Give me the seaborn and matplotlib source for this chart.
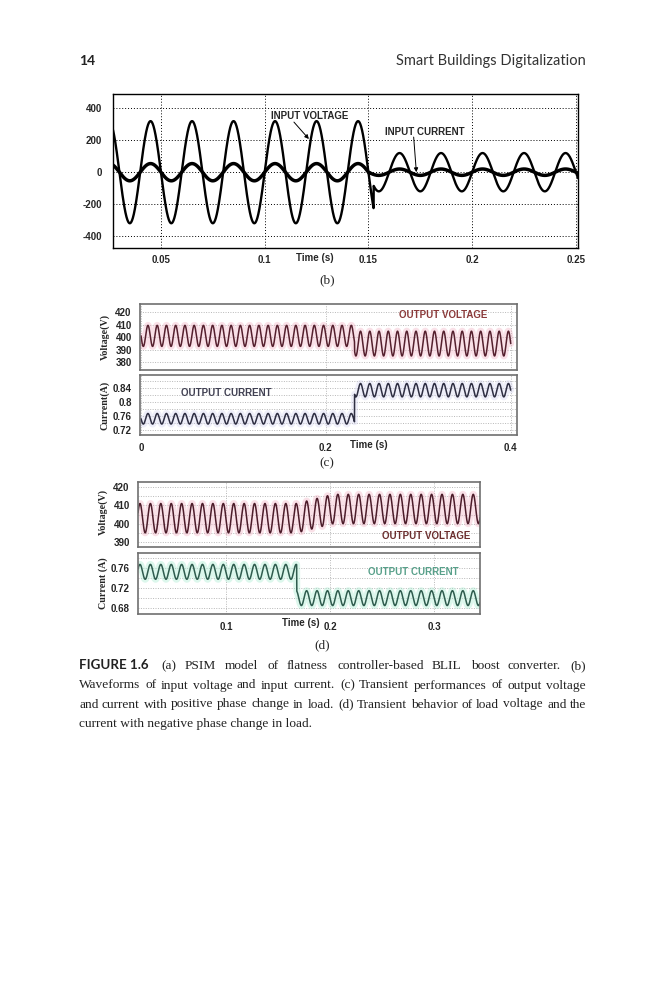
import numpy as np
import pandas as pd
import matplotlib
matplotlib.use("Agg")
import matplotlib.pyplot as plt
from matplotlib.font_manager import FontProperties
import seaborn as sns

# ------------------------------------------------------------------ data
# (b) input voltage / input current
b_line_freq_hz = 50.0
b_xlim = (0.0269, 0.251)
b_ylim = (-475, 490)
b_xticks = [0.05, 0.1, 0.15, 0.2, 0.25]
b_xticklabels = ["0.05", "0.1", "0.15", "0.2", "0.25"]
b_yticks = [-400, -200, 0, 200, 400]
b_yticklabels = ["-400", "-200", "0", "200", "400"]
b_vin_amp = [320, 120]          # before / after switching
b_vin_switch_t = 0.1525
b_iin_amp = [54, 20]
b_iin_switch_t = 0.1505

# (c) output voltage / current, positive load change
c_ripple_hz = 100.0
c_step_t = 0.231
c_v_mean = [401.0, 394.8]
c_v_amp = [8.5, 10.0]
c_i_mean = [0.752, 0.833]
c_i_amp = [0.015, 0.019]
c_xlim = (-0.0011, 0.4068)
c_xticks = [0, 0.2, 0.4]
c_xticklabels = ["0", "0.2", "0.4"]
c_v_ylim = (373.5, 426.7)
c_v_yticks = [380, 390, 400, 410, 420]
c_i_ylim = (0.706, 0.876)
c_i_yticks = [0.72, 0.76, 0.8, 0.84]
c_i_yticklabels = ["0.72", "0.76", "0.8", "0.84"]

# (d) output voltage / current, negative load change
d_ripple_hz = 100.0
d_step_t = 0.168
d_v_mean = [403.0, 408.0]
d_v_amp = [8.0, 8.0]
d_v_settle_s = 0.035
d_i_mean = [0.752, 0.699]
d_i_amp = [0.015, 0.015]
d_xlim = (0.0156, 0.344)
d_xticks = [0.1, 0.2, 0.3]
d_xticklabels = ["0.1", "0.2", "0.3"]
d_v_ylim = (387.3, 422.7)
d_v_yticks = [390, 400, 410, 420]
d_i_ylim = (0.667, 0.79)
d_i_yticks = [0.68, 0.72, 0.76]
d_i_yticklabels = ["0.68", "0.72", "0.76"]

caption_lines = [
    "(a) PSIM model of flatness controller-based BLIL boost converter. (b)",
    "Waveforms of input voltage and input current. (c) Transient performances of output voltage",
    "and current with positive phase change in load. (d) Transient behavior of load voltage and the",
    "current with negative phase change in load.",
]

# ------------------------------------------------------------------ waveforms
def sine_piecewise(t, f, amps, t_sw, means=(0.0, 0.0), sign=1.0, settle=0.0):
    s = sign * np.sin(2 * np.pi * f * t)
    after = t >= t_sw
    if settle > 0:
        w = np.clip((t - t_sw) / settle, 0, 1)
    else:
        w = after.astype(float)
    mean = means[0] + (means[1] - means[0]) * w
    amp = np.where(after, amps[1], amps[0])
    return mean + amp * s

tb = np.linspace(b_xlim[0], b_xlim[1], 4000)
df_b = pd.DataFrame({
    "t": tb,
    "vin": sine_piecewise(tb, b_line_freq_hz, b_vin_amp, b_vin_switch_t),
    "iin": sine_piecewise(tb, b_line_freq_hz, b_iin_amp, b_iin_switch_t),
})

tc = np.linspace(0.0, 0.4, 4000)
df_c = pd.DataFrame({
    "t": tc,
    "v": sine_piecewise(tc, c_ripple_hz, c_v_amp, c_step_t, c_v_mean, sign=-1),
    "i": sine_piecewise(tc, c_ripple_hz, c_i_amp, c_step_t, c_i_mean, sign=-1),
})

td = np.linspace(d_xlim[0], d_xlim[1], 4000)
df_d = pd.DataFrame({
    "t": td,
    "v": sine_piecewise(td, d_ripple_hz, d_v_amp, d_step_t, d_v_mean, sign=-1,
                        settle=d_v_settle_s),
    "i": sine_piecewise(td, d_ripple_hz, d_i_amp, d_step_t, d_i_mean, sign=-1),
})

# ------------------------------------------------------------------ figure
sns.set_style("white")
plt.rcParams["font.family"] = ["Liberation Sans", "DejaVu Sans"]

W, H = 666, 1000
fig = plt.figure(figsize=(W / 100, H / 100), dpi=100)
fig.patch.set_facecolor("white")


def rect(x0, y0, x1, y1):
    return [x0 / W, 1 - y1 / H, (x1 - x0) / W, (y1 - y0) / H]


def fx(x):
    return x / W


def fy(y):
    return 1 - y / H


TICKFONT = dict(family="Liberation Sans", weight="bold", size=7)
SERIFB = dict(family="Liberation Serif", weight="bold", size=7.2)


def style_axes(ax, spine_col, spine_lw):
    for s in ax.spines.values():
        s.set_visible(True)
        s.set_color(spine_col)
        s.set_linewidth(spine_lw)
    ax.tick_params(length=0, pad=6)
    ax.set_xlabel("")
    ax.set_ylabel("")
    ax.set_facecolor("white")


# ---------------- (b)
axb = fig.add_axes(rect(113, 94, 578, 248))
sns.lineplot(data=df_b, x="t", y="iin", ax=axb, color="black", lw=2.5,
             estimator=None, sort=False)
sns.lineplot(data=df_b, x="t", y="vin", ax=axb, color="black", lw=1.7,
             estimator=None, sort=False)
axb.set_xlim(*b_xlim)
axb.set_ylim(*b_ylim)
axb.set_xticks(b_xticks)
axb.set_xticklabels(b_xticklabels, **TICKFONT)
axb.set_yticks(b_yticks)
axb.set_yticklabels(b_yticklabels, **TICKFONT)
style_axes(axb, "black", 1.0)
axb.tick_params(axis="x", pad=5)
axb.tick_params(axis="y", pad=8)
axb.grid(True, color="black", linestyle=(0, (1, 2)), lw=0.7)
fig.text(fx(315), fy(258), "Time (s)", ha="center", va="center", **TICKFONT)
axb.text(0.1216, 354, "INPUT VOLTAGE", ha="center", va="center",
         fontsize=7, fontweight="bold")
axb.annotate("", xy=(0.1213, 208), xytext=(0.1141, 314),
             arrowprops=dict(arrowstyle="-|>", color="black", lw=0.7,
                             mutation_scale=6, shrinkA=0, shrinkB=0))
axb.text(0.1771, 253, "INPUT CURRENT", ha="center", va="center",
         fontsize=7, fontweight="bold")
axb.annotate("", xy=(0.1731, 0), xytext=(0.1718, 220),
             arrowprops=dict(arrowstyle="-|>", color="black", lw=0.7,
                             mutation_scale=6, shrinkA=0, shrinkB=0))
fig.text(fx(327), fy(280), "(b)", ha="center", va="center",
         family="Liberation Serif", size=9.5)

GRIDC = dict(color="#b8b8b8", linestyle=(0, (1, 1.5)), lw=0.7)

# ---------------- (c)
axc1 = fig.add_axes(rect(140, 304, 517, 370))
sns.lineplot(data=df_c, x="t", y="v", ax=axc1, color="#f0a8bc", lw=5,
             alpha=0.35, estimator=None, sort=False)
sns.lineplot(data=df_c, x="t", y="v", ax=axc1, color="#55202e", lw=1.1,
             estimator=None, sort=False)
axc1.set_xlim(*c_xlim)
axc1.set_ylim(*c_v_ylim)
axc1.set_xticks(c_xticks)
axc1.set_xticklabels([])
axc1.set_yticks(c_v_yticks)
axc1.set_yticklabels([str(v) for v in c_v_yticks], **TICKFONT)
style_axes(axc1, "#707070", 1.2)
axc1.grid(True, **GRIDC)
axc1.text(0.3268, 417.8, "OUTPUT VOLTAGE", ha="center", va="center",
          color="#8b3a3a", fontsize=7, fontweight="bold")

axc2 = fig.add_axes(rect(140, 375, 517, 435))
sns.lineplot(data=df_c, x="t", y="i", ax=axc2, color="#c8c8ec", lw=5,
             alpha=0.3, estimator=None, sort=False)
sns.lineplot(data=df_c, x="t", y="i", ax=axc2, color="#2e2e42", lw=1.1,
             estimator=None, sort=False)
axc2.set_xlim(*c_xlim)
axc2.set_ylim(*c_i_ylim)
axc2.set_xticks(c_xticks)
axc2.set_xticklabels(c_xticklabels, **TICKFONT)
axc2.set_yticks(c_i_yticks)
axc2.set_yticklabels(c_i_yticklabels, **TICKFONT)
axc2.set_yticks([0.74, 0.78, 0.82, 0.86], minor=True)
style_axes(axc2, "#707070", 1.2)
axc2.tick_params(which="minor", length=0)
axc2.grid(True, which="both", **GRIDC)
axc2.text(0.092, 0.8257, "OUTPUT CURRENT", ha="center", va="center",
          color="#404052", fontsize=7, fontweight="bold")
fig.text(fx(369), fy(445), "Time (s)", ha="center", va="center", **TICKFONT)
fig.text(fx(105), fy(337), "Voltage(V)", rotation=90, ha="center",
         va="center", **SERIFB)
fig.text(fx(105), fy(405), "Current(A)", rotation=90, ha="center",
         va="center", **SERIFB)
fig.text(fx(327), fy(463), "(c)", ha="center", va="center",
         family="Liberation Serif", size=9.5)

# ---------------- (d)
axd1 = fig.add_axes(rect(138, 482, 480, 547))
sns.lineplot(data=df_d, x="t", y="v", ax=axd1, color="#f0a8bc", lw=5,
             alpha=0.35, estimator=None, sort=False)
sns.lineplot(data=df_d, x="t", y="v", ax=axd1, color="#4c1c2a", lw=1.1,
             estimator=None, sort=False)
axd1.set_xlim(*d_xlim)
axd1.set_ylim(*d_v_ylim)
axd1.set_xticks(d_xticks)
axd1.set_xticklabels([])
axd1.set_yticks(d_v_yticks)
axd1.set_yticklabels([str(v) for v in d_v_yticks], **TICKFONT)
axd1.set_yticks([395, 405, 415], minor=True)
style_axes(axd1, "#707070", 1.2)
axd1.tick_params(which="minor", length=0)
axd1.grid(True, which="both", **GRIDC)
axd1.text(0.292, 393.3, "OUTPUT VOLTAGE", ha="center", va="center",
          color="#6b2e2e", fontsize=7, fontweight="bold")

axd2 = fig.add_axes(rect(138, 553, 480, 614))
sns.lineplot(data=df_d, x="t", y="i", ax=axd2, color="#a8ecd0", lw=5,
             alpha=0.4, estimator=None, sort=False)
sns.lineplot(data=df_d, x="t", y="i", ax=axd2, color="#2f5c4e", lw=1.1,
             estimator=None, sort=False)
axd2.set_xlim(*d_xlim)
axd2.set_ylim(*d_i_ylim)
axd2.set_xticks(d_xticks)
axd2.set_xticklabels(d_xticklabels, **TICKFONT)
axd2.set_yticks(d_i_yticks)
axd2.set_yticklabels(d_i_yticklabels, **TICKFONT)
axd2.set_yticks([0.70, 0.74, 0.78], minor=True)
style_axes(axd2, "#707070", 1.2)
axd2.tick_params(which="minor", length=0)
axd2.grid(True, which="both", **GRIDC)
axd2.text(0.2796, 0.7508, "OUTPUT CURRENT", ha="center", va="center",
          color="#58a08a", fontsize=7, fontweight="bold")
fig.text(fx(301), fy(623), "Time (s)", ha="center", va="center", **TICKFONT)
fig.text(fx(103), fy(512), "Voltage(V)", rotation=90, ha="center",
         va="center", **SERIFB)
fig.text(fx(103), fy(583), "Current (A)", rotation=90, ha="center",
         va="center", **SERIFB)
fig.text(fx(322), fy(645), "(d)", ha="center", va="center",
         family="Liberation Serif", size=9.5)

# ---------------- page header
fig.text(fx(79), fy(65), "14", ha="left", va="baseline",
         family="Lato", weight="bold", size=10, color="#222222")
fig.text(fx(586), fy(65), "Smart Buildings Digitalization", ha="right",
         va="baseline", family="Lato", size=10.5, color="#333333")

# ---------------- justified caption
renderer = fig.canvas.get_renderer()
X0, X1 = 79, 586
baselines = [669, 688.5, 707.5, 727]
SERIF_FP = FontProperties(family="Liberation Serif", size=9.6)
HEAD_FP = FontProperties(family="Lato", weight="bold", size=9.6)
TXT_COL = "#222222"


def place_line(tokens, yb, justify):
    if not justify:
        txt = " ".join(w for w, _ in tokens)
        fig.text(fx(X0), fy(yb), txt, ha="left", va="baseline",
                 fontproperties=tokens[0][1], color=TXT_COL)
        return
    texts = []
    for word, fp in tokens:
        t = fig.text(0, fy(yb), word, ha="left", va="baseline",
                     fontproperties=fp, color=TXT_COL)
        texts.append(t)
    widths = [t.get_window_extent(renderer).width for t in texts]
    gap = (X1 - X0 - sum(widths)) / (len(texts) - 1)
    x = X0
    for t, w in zip(texts, widths):
        t.set_x(fx(round(x)))
        x += w + gap


for k, line in enumerate(caption_lines):
    toks = [(w, SERIF_FP) for w in line.split()]
    if k == 0:
        toks = [("FIGURE 1.6 ", HEAD_FP)] + toks
    place_line(toks, baselines[k], justify=(k < len(caption_lines) - 1))

fig.savefig("out.png", dpi=100, facecolor="white")
